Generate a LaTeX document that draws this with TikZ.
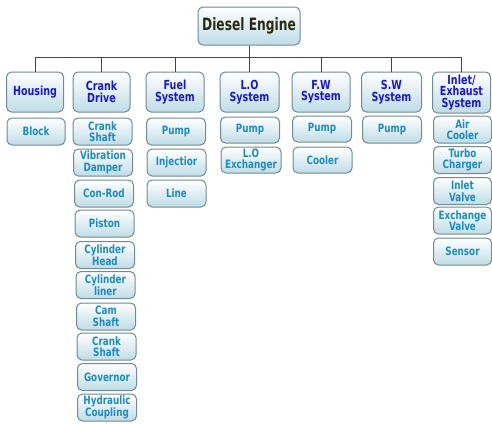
\documentclass[tikz,border=0pt]{standalone}
\usepackage{fontspec}
\setmainfont{DejaVu Sans Condensed}[FakeStretch=0.85]
\newfontfamily\topfont{DejaVu Sans Condensed}[FakeStretch=0.8]
\definecolor{bordc}{HTML}{6E8C92}
\definecolor{fillb}{HTML}{BFDCE6}
\definecolor{catc}{HTML}{1818D8}
\definecolor{subc}{HTML}{1E8CBE}
\definecolor{topc}{HTML}{2A2A12}
\definecolor{linec}{HTML}{444444}
\tikzset{
  box/.style={draw=bordc, line width=1pt, rounded corners=5pt, top color=white, bottom color=fillb, inner sep=0pt, align=center},
  topbox/.style={box, minimum width=102pt, minimum height=38pt, text=topc, font=\topfont\bfseries\fontsize{17}{18}\selectfont},
  catbox/.style={box, minimum width=58pt, minimum height=40pt, text=catc, font=\bfseries\fontsize{12.5}{11.5}\selectfont},
  subbox/.style={box, minimum width=59pt, minimum height=27pt, text=subc, font=\bfseries\fontsize{11.5}{11.5}\selectfont},
  conn/.style={draw=linec, line width=0.8pt}
}
\begin{document}
\begin{tikzpicture}[x=1pt,y=-1pt]
\useasboundingbox (0,0) rectangle (492,423);
\node[topbox] (top) at (249,26) {Diesel Engine};
% categories
\node[catbox, minimum width=57pt] (housing) at (35,92) {Housing};
\node[catbox, minimum width=57pt] (crank) at (101.5,92) {Crank\\Drive};
\node[catbox] (fuel) at (175,92) {Fuel\\System};
\node[catbox, minimum width=59pt] (lo) at (249.5,92) {L.O\\System};
\node[catbox] (fw) at (321,92) {F.W\\System};
\node[catbox, minimum width=60pt] (sw) at (391.5,92) {S.W\\System};
\node[catbox, minimum height=41pt] (inlet) at (461.5,92.5) {Inlet/\\Exhaust\\System};
% connectors
\foreach \c in {housing,crank,fuel,lo,fw,sw,inlet}
  \draw[conn] (top.south) -- ++(0,12) -| (\c.north);
% housing
\node[subbox, minimum width=58pt] (block) at (36,131.5) {Block};
% crank drive
\node[subbox] (cs1) at (102.5,131.5) {Crank\\Shaft};
\node[subbox] (vd) at (103,162.5) {Vibration\\Damper};
\node[subbox] (cr) at (104,193.5) {Con-Rod};
\node[subbox] (piston) at (104.5,223.5) {Piston};
\node[subbox] (ch) at (105,255) {Cylinder\\Head};
\node[subbox] (cl) at (105.5,285) {Cylinder\\liner};
\node[subbox] (cam) at (106,316.5) {Cam\\Shaft};
\node[subbox] (cs2) at (106.5,346.5) {Crank\\Shaft};
\node[subbox] (gov) at (107,377) {Governor};
\node[subbox] (hc) at (107,407.5) {Hydraulic\\Coupling};
% fuel
\node[subbox] (fpump) at (176,131.5) {Pump};
\node[subbox] (inj) at (176.5,162.5) {Injectior};
\node[subbox] (fline) at (176.5,193.5) {Line};
% lo
\node[subbox, minimum height=26pt] (lpump) at (250,130) {Pump};
\node[subbox, minimum width=60pt, minimum height=26pt] (lexch) at (251,160) {L.O\\Exchanger};
% fw
\node[subbox, minimum height=26pt] (wpump) at (322,129) {Pump};
\node[subbox, minimum height=26pt] (wcool) at (322.5,160) {Cooler};
% sw
\node[subbox] (spump) at (392,129.5) {Pump};
% inlet
\node[subbox, minimum width=58pt] (air) at (462.5,129.5) {Air\\Cooler};
\node[subbox, minimum width=58pt] (turbo) at (462.5,160) {Turbo\\Charger};
\node[subbox, minimum width=58pt] (ivalve) at (462.5,191) {Inlet\\Valve};
\node[subbox, minimum width=58pt] (evalve) at (462.5,220.5) {Exchange\\Valve};
\node[subbox, minimum width=58pt] (sensor) at (462.5,251.5) {Sensor};
\end{tikzpicture}
\end{document}
